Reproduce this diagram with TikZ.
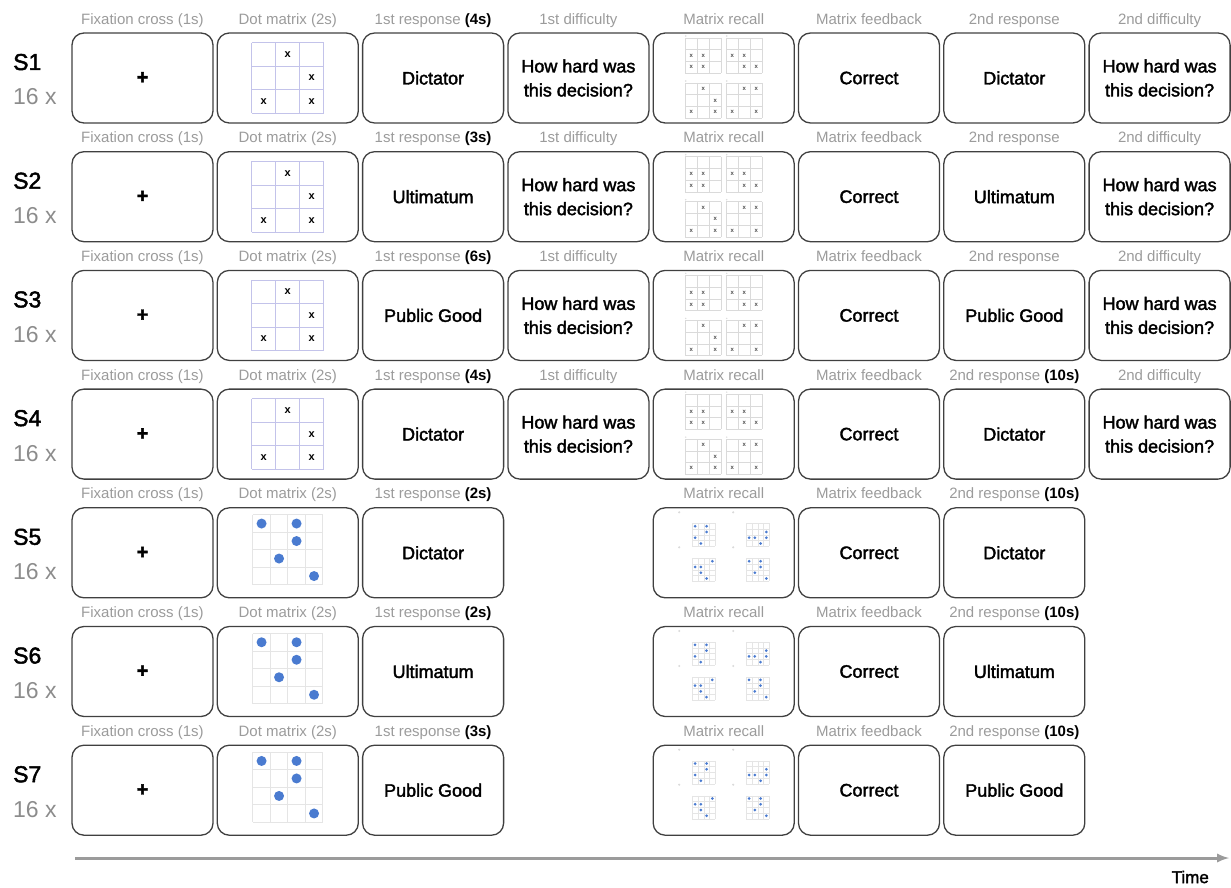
\documentclass[tikz,border=0pt]{standalone}
\usepackage{fontspec}
\setmainfont{Liberation Sans}
\newfontfamily\medfont[FakeBold=2]{Liberation Sans}
\usetikzlibrary{positioning}
\definecolor{hdrgray}{HTML}{9B9B9B}
\definecolor{numgray}{HTML}{8C8C8C}
\definecolor{gridblue}{HTML}{C3C3EA}
\definecolor{gridgray}{HTML}{DADADA}
\definecolor{dotblue}{HTML}{4A7BD0}
\tikzstyle{screen}=[draw=black!75,line width=1.3pt,rounded corners=12pt,minimum width=141pt,minimum height=90pt,inner sep=0pt,align=center,font=\medfont\fontsize{18}{24}\selectfont]
\tikzstyle{hdr}=[inner sep=0pt,text=hdrgray,text height=11pt,text depth=4pt,font=\fontsize{15}{15}\selectfont]
\tikzstyle{xmark}=[inner sep=0pt,font=\bfseries\fontsize{11}{11}\selectfont]
\tikzstyle{tinyx}=[inner sep=0pt,text=black!70,font=\bfseries\fontsize{6}{6}\selectfont]
\tikzstyle{bigdot}=[circle,fill=dotblue,minimum size=10pt,inner sep=0pt]
\tikzstyle{smalldot}=[circle,fill=dotblue,minimum size=3pt,inner sep=0pt]
\newcommand{\tsec}[1]{\textcolor{black}{\bfseries(#1)}}

% n x n grid, cell #2 by #3, line style #4
\newcommand{\cellgrid}[4]{%
  \foreach \k in {0,...,#1}{%
    \draw[#4] ({(\k-#1/2)*#2},{-#1*#3/2}) -- ({(\k-#1/2)*#2},{#1*#3/2});
    \draw[#4] ({-#1*#2/2},{(\k-#1/2)*#3}) -- ({#1*#2/2},{(\k-#1/2)*#3});
  }}
% 3x3 matrix with x marks
\newcommand{\xmatrix}[1]{%
  \begin{scope}[shift={(#1.center)}]
    \cellgrid{3}{24}{23.5}{gridblue,line width=0.9pt}
    \foreach \c/\rr in {2/1,3/2,1/3,3/3}
      \node[xmark] (#1-\c-\rr) at ({(\c-2)*24},{(\rr-2)*23.5}) {x};
  \end{scope}}
% 4x4 matrix with dots
\newcommand{\dotmatrix}[1]{%
  \begin{scope}[shift={(#1.center)},shift={(0,-3)}]
    \cellgrid{4}{17.5}{17.5}{gridgray!70,line width=0.8pt}
    \foreach \c/\rr in {1/1,3/1,3/2,2/3,4/4}
      \node[bigdot] (#1-\c-\rr) at ({(\c-2.5)*17.5},{(\rr-2.5)*17.5}) {};
  \end{scope}}
% small recall grids
\newcommand{\minix}[4]{%
  \begin{scope}[shift={(#1,#2)}]
    \cellgrid{3}{12}{11.7}{gridgray,line width=0.5pt}
    \fill[gridgray] (-17.5,-19.5) circle (0.8);
    \foreach \c/\rr in {#4}
      \node[tinyx] (#3-\c-\rr) at ({(\c-2)*12},{(\rr-2)*11.7}) {x};
  \end{scope}}
\newcommand{\minidots}[4]{%
  \begin{scope}[shift={(#1,#2)}]
    \cellgrid{4}{5.75}{5.75}{gridgray!70,line width=0.3pt}
    \fill[gridgray] (-24.5,-22.5) circle (1.2);
    \foreach \c/\rr in {#4}
      \node[smalldot] (#3-\c-\rr) at ({(\c-2.5)*5.75},{(\rr-2.5)*5.75}) {};
  \end{scope}}
\newcommand{\xrecall}[1]{%
  \begin{scope}[shift={(#1.center)}]
    \minix{-20.5}{-22.5}{#1a}{1/2,2/2,1/3,2/3}
    \minix{20.5}{-22.5}{#1b}{1/2,2/2,2/3,3/3}
    \minix{-20.5}{22.5}{#1c}{2/1,3/2,1/3,3/3}
    \minix{20.5}{22.5}{#1d}{2/1,3/1,1/3,3/3}
  \end{scope}}
\newcommand{\dotrecall}[1]{%
  \begin{scope}[shift={(#1.center)}]
    \minidots{-20}{-18}{#1a}{1/1,3/1,3/2,1/3,2/4}
    \minidots{34}{-18}{#1b}{4/2,1/3,2/3,4/3,3/4}
    \minidots{-20}{17}{#1c}{4/1,1/2,2/2,2/3,3/4}
    \minidots{34}{17}{#1d}{1/1,3/1,3/2,2/3,4/4}
  \end{scope}}

\begin{document}
\begin{tikzpicture}[x=1pt,y=-1pt]
    \useasboundingbox (0,0) rectangle (1231,888);
    \foreach \r/\task/\tA/\hB [evaluate=\r as \y using 78+(\r-1)*118.7] in
      {1/Dictator/4s/{2nd response},
       2/Ultimatum/3s/{2nd response},
       3/Public Good/6s/{2nd response},
       4/Dictator/4s/{2nd response \tsec{10s}},
       5/Dictator/2s/{2nd response \tsec{10s}},
       6/Ultimatum/2s/{2nd response \tsec{10s}},
       7/Public Good/3s/{2nd response \tsec{10s}}}{
      % session label
      \node[anchor=base west,inner sep=0pt,font=\medfont\fontsize{23}{23}\selectfont] (s\r) at (13,\y-8) {S\r};
      \node[anchor=base west,inner sep=0pt,text=numgray,font=\fontsize{23}{23}\selectfont] (n\r) at (13,\y+27) {16 x};
      % screens
      \node[screen] (fix\r) at (142.5,\y) {\fontsize{20}{20}\selectfont\textbf{+}};
      \node[hdr,above=4pt of fix\r] (hfix\r) {Fixation cross (1s)};
      \node[screen] (dot\r) at (287.8,\y) {};
      \node[hdr,above=4pt of dot\r] (hdot\r) {Dot matrix (2s)};
      \node[screen] (rA\r) at (433.1,\y) {\task};
      \node[hdr,above=4pt of rA\r] (hrA\r) {1st response \tsec{\tA}};
      \node[screen] (rec\r) at (723.7,\y) {};
      \node[hdr,above=4pt of rec\r] (hrec\r) {Matrix recall};
      \node[screen] (fb\r) at (869,\y) {Correct};
      \node[hdr,above=4pt of fb\r] (hfb\r) {Matrix feedback};
      \node[screen] (rB\r) at (1014.3,\y) {\task};
      \node[hdr,above=4pt of rB\r] (hrB\r) {\hB};
      \ifnum\r<5
        \node[screen] (dA\r) at (578.4,\y) {How hard was\\this decision?};
        \node[hdr,above=4pt of dA\r] (hdA\r) {1st difficulty};
        \node[screen] (dB\r) at (1159.6,\y) {How hard was\\this decision?};
        \node[hdr,above=4pt of dB\r] (hdB\r) {2nd difficulty};
        \xmatrix{dot\r}
        \xrecall{rec\r}
      \else
        \dotmatrix{dot\r}
        \dotrecall{rec\r}
      \fi
    }
    % time axis
    \coordinate (tstart) at (75,858);
    \coordinate (tend) at (1229,858);
    \draw[hdrgray,line width=3pt,-latex] (tstart) -- (tend);
    \node[anchor=east,inner sep=0pt,font=\medfont\fontsize{17}{17}\selectfont] (time) at (1209,877) {Time};
\end{tikzpicture}
\end{document}
